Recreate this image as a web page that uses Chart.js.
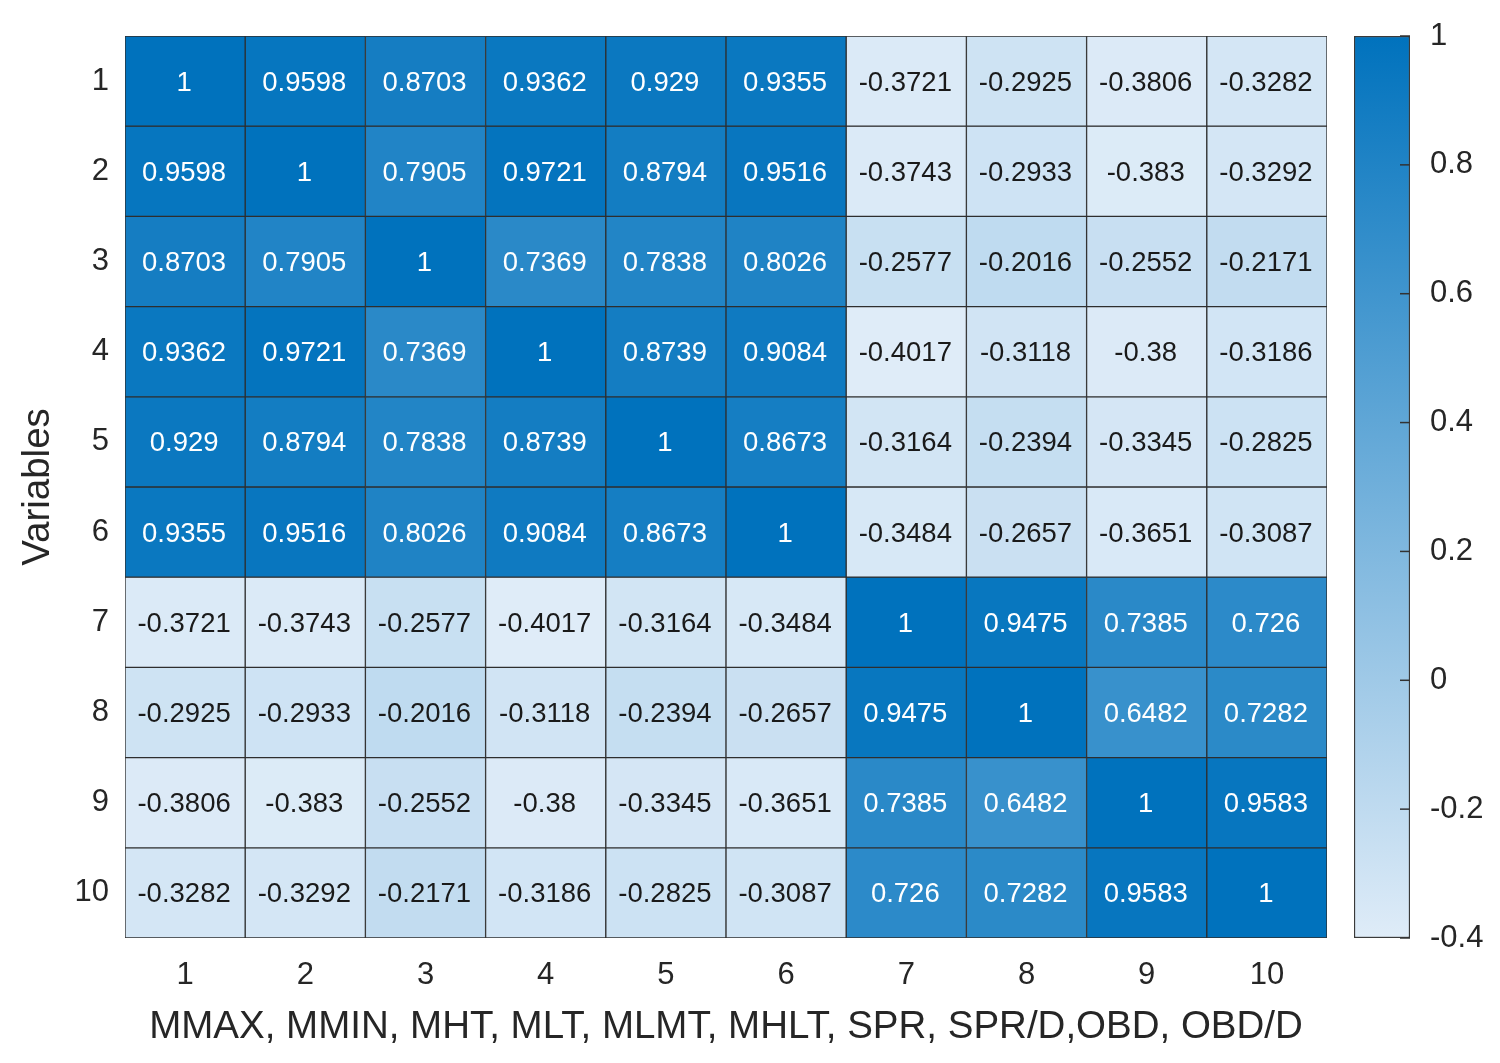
<!DOCTYPE html>
<html>
<head>
<meta charset="utf-8">
<script src="https://cdn.jsdelivr.net/npm/chart.js@4"></script>
<style>
    body { margin: 0; background: #fff; }
    #wrap { position: relative; width: 1500px; height: 1063px; }
    #heat { position: absolute; left: 0; top: 0; }
    #cbar { position: absolute; left: 1330px; top: 0; }
</style>
</head>
<body>
<div id="wrap">
    <canvas id="heat" width="1330" height="1063"></canvas>
    <canvas id="cbar" width="170" height="1063"></canvas>
</div>
<script>
// correlation matrix, one array per row (variable 1..10)
const row1  = [1, 0.9598, 0.8703, 0.9362, 0.929, 0.9355, -0.3721, -0.2925, -0.3806, -0.3282];
const row2  = [0.9598, 1, 0.7905, 0.9721, 0.8794, 0.9516, -0.3743, -0.2933, -0.383, -0.3292];
const row3  = [0.8703, 0.7905, 1, 0.7369, 0.7838, 0.8026, -0.2577, -0.2016, -0.2552, -0.2171];
const row4  = [0.9362, 0.9721, 0.7369, 1, 0.8739, 0.9084, -0.4017, -0.3118, -0.38, -0.3186];
const row5  = [0.929, 0.8794, 0.7838, 0.8739, 1, 0.8673, -0.3164, -0.2394, -0.3345, -0.2825];
const row6  = [0.9355, 0.9516, 0.8026, 0.9084, 0.8673, 1, -0.3484, -0.2657, -0.3651, -0.3087];
const row7  = [-0.3721, -0.3743, -0.2577, -0.4017, -0.3164, -0.3484, 1, 0.9475, 0.7385, 0.726];
const row8  = [-0.2925, -0.2933, -0.2016, -0.3118, -0.2394, -0.2657, 0.9475, 1, 0.6482, 0.7282];
const row9  = [-0.3806, -0.383, -0.2552, -0.38, -0.3345, -0.3651, 0.7385, 0.6482, 1, 0.9583];
const row10 = [-0.3282, -0.3292, -0.2171, -0.3186, -0.2825, -0.3087, 0.726, 0.7282, 0.9583, 1];
const rows = [row1, row2, row3, row4, row5, row6, row7, row8, row9, row10];

const xLabels = ['1', '2', '3', '4', '5', '6', '7', '8', '9', '10'];
const yTicks = [1, 2, 3, 4, 5, 6, 7, 8, 9, 10];
const cbTicks = [-0.4, -0.2, 0, 0.2, 0.4, 0.6, 0.8, 1];
const cMin = -0.4, cMax = 1;

const xTitle = 'MMAX, MMIN, MHT, MLT, MLMT, MHLT, SPR, SPR/D,OBD, OBD/D';
const yTitle = 'Variables';

const FONT = '"Liberation Sans", Arial, sans-serif';
const TEXT = '#262626';
const LOW = [223, 236, 248];
const HIGH = [0, 114, 189];

function colorFor(v) {
    let t = (v - cMin) / (cMax - cMin);
    t = Math.max(0, Math.min(1, t));
    const c = LOW.map((lo, i) => Math.round(lo + (HIGH[i] - lo) * t));
    return `rgb(${c[0]}, ${c[1]}, ${c[2]})`;
}

// writes the value in the middle of each cell
const cellText = {
    id: 'cellText',
    afterDatasetsDraw(chart) {
        const ctx = chart.ctx;
        ctx.save();
        ctx.font = `27.5px ${FONT}`;
        ctx.textAlign = 'center';
        ctx.textBaseline = 'middle';
        chart.data.datasets.forEach((ds, r) => {
            chart.getDatasetMeta(r).data.forEach((bar, c) => {
                const v = rows[r][c];
                ctx.fillStyle = v > 0 ? '#ffffff' : '#1a1a1a';
                ctx.fillText(String(v), bar.x - 1, (bar.y + bar.base) / 2 + 2);
            });
        });
        ctx.restore();
    }
};

new Chart(document.getElementById('heat'), {
    type: 'bar',
    data: {
        labels: xLabels,
        datasets: rows.map((row, r) => ({
            label: 'row ' + (r + 1),
            data: row.map(() => [yTicks[r] - 0.5, yTicks[r] + 0.5]),
            backgroundColor: row.map(colorFor),
            borderColor: '#2e2e2e',
            borderWidth: 1,
            borderSkipped: false,
            grouped: false,
            barPercentage: 1,
            categoryPercentage: 1
        }))
    },
    options: {
        responsive: false,
        animation: false,
        devicePixelRatio: 1,
        layout: { padding: { top: 36, right: 3, bottom: 0, left: 0 } },
        plugins: { legend: { display: false }, tooltip: { enabled: false } },
        scales: {
            x: {
                grid: { display: false },
                border: { display: false },
                ticks: { color: TEXT, font: { family: FONT, size: 31 }, padding: 11, maxRotation: 0 },
                title: { display: true, text: xTitle, color: TEXT, font: { family: FONT, size: 38.5 }, padding: { top: 0, bottom: 13 } },
                afterFit(scale) { scale.height = 125; }
            },
            y: {
                type: 'linear',
                reverse: true,
                min: 0.5,
                max: 10.5,
                grid: { display: false },
                border: { display: false },
                afterBuildTicks(scale) { scale.ticks = yTicks.map(v => ({ value: v })); },
                ticks: { color: TEXT, font: { family: FONT, size: 31 }, padding: 8, callback: v => String(v) },
                title: { display: true, text: yTitle, color: TEXT, font: { family: FONT, size: 38.5 }, padding: { top: 15, bottom: 0 } },
                afterFit(scale) { scale.width = 125; }
            }
        }
    },
    plugins: [cellText]
});

// small inward ticks on the right edge of the colour bar
const cbarTicks = {
    id: 'cbarTicks',
    afterDatasetsDraw(chart) {
        const ctx = chart.ctx;
        const y = chart.scales.y;
        const right = chart.chartArea.right;
        ctx.save();
        ctx.strokeStyle = '#333';
        ctx.lineWidth = 1.5;
        y.ticks.forEach(t => {
            const py = y.getPixelForValue(t.value);
            ctx.beginPath();
            ctx.moveTo(right - 10, py);
            ctx.lineTo(right, py);
            ctx.stroke();
        });
        ctx.restore();
    }
};

new Chart(document.getElementById('cbar'), {
    type: 'bar',
    data: {
        labels: ['c'],
        datasets: [{
            data: [[cMin, cMax]],
            backgroundColor(context) {
                const chart = context.chart;
                if (!chart.chartArea) return colorFor(0.3);
                const y = chart.scales.y;
                const g = chart.ctx.createLinearGradient(0, y.getPixelForValue(cMin), 0, y.getPixelForValue(cMax));
                g.addColorStop(0, colorFor(cMin));
                g.addColorStop(1, colorFor(cMax));
                return g;
            },
            borderColor: '#3a3a3a',
            borderWidth: 1.5,
            borderSkipped: false,
            barPercentage: 1,
            categoryPercentage: 1
        }]
    },
    options: {
        responsive: false,
        animation: false,
        devicePixelRatio: 1,
        layout: { padding: { top: 36, right: 0, bottom: 125, left: 24 } },
        plugins: { legend: { display: false }, tooltip: { enabled: false } },
        scales: {
            x: { display: false },
            y: {
                position: 'right',
                min: cMin,
                max: cMax,
                grid: { display: false },
                border: { display: false },
                afterBuildTicks(scale) { scale.ticks = cbTicks.map(v => ({ value: v })); },
                ticks: { color: TEXT, font: { family: FONT, size: 31 }, padding: 12, callback: v => String(v) },
                afterFit(scale) { scale.width = 90; }
            }
        }
    },
    plugins: [cbarTicks]
});
</script>
</body>
</html>
